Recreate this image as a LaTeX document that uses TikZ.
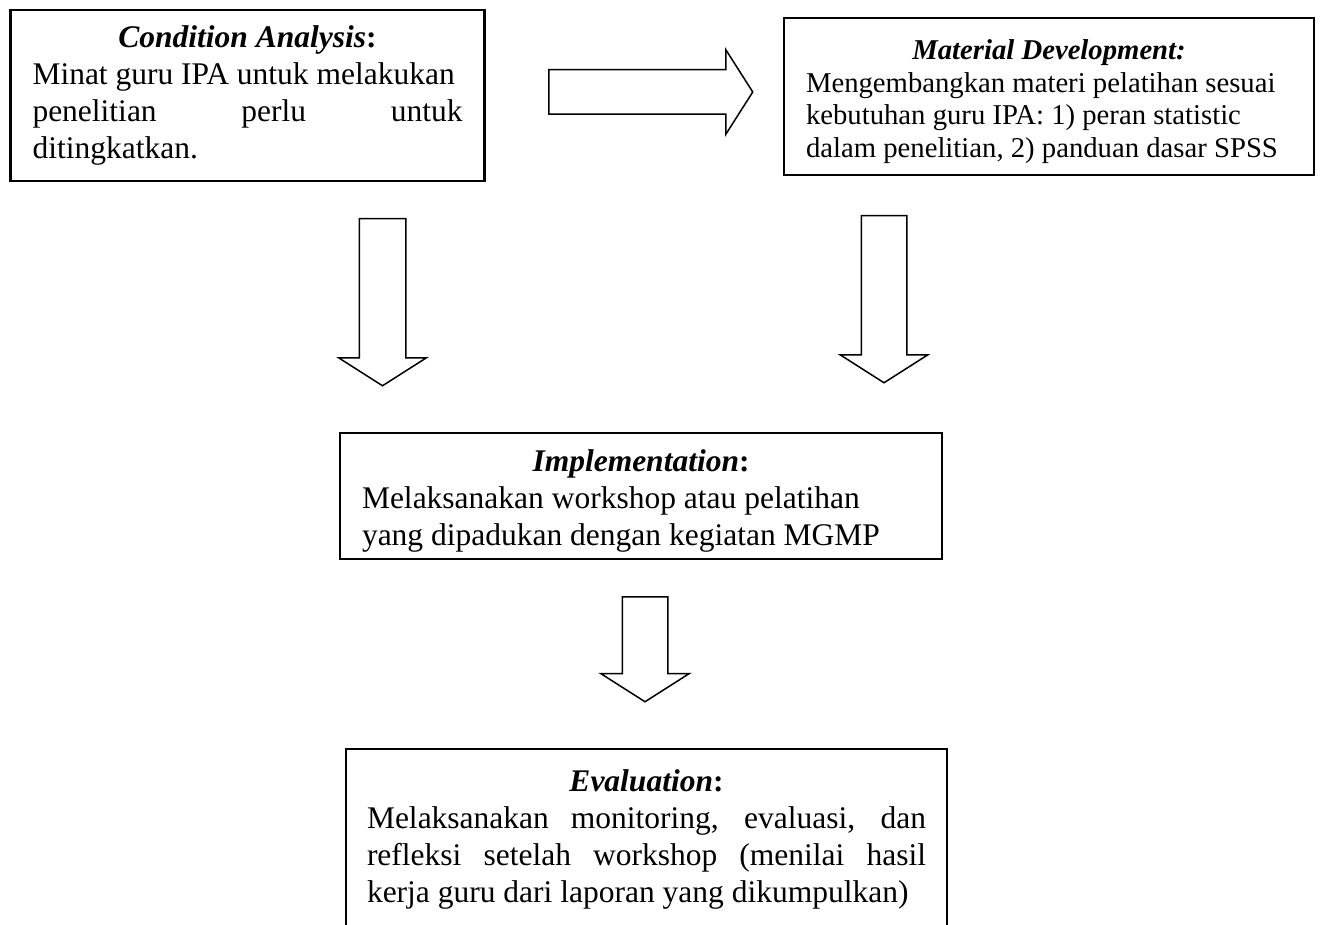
\documentclass[tikz,border=0pt]{standalone}
\usepackage{fontspec}
\setmainfont{Liberation Serif}
\usetikzlibrary{shapes.arrows}

\tikzset{
  stage/.style={draw, line width=2.4pt, inner xsep=22pt, inner ysep=0pt, align=flush left,
    font=\fontsize{31.5}{37}\selectfont},
  blockarrow/.style={draw, single arrow, line width=1.5pt, inner xsep=0pt, inner ysep=22pt,
    single arrow tip angle=115, single arrow head indent=0pt, single arrow head extend=21pt,
    anchor=tail, minimum width=0pt},
}
\newcommand{\stagetitle}[2]{\makebox[\hsize]{\bfseries\itshape #1\upshape #2}}

\begin{document}
\begin{tikzpicture}[x=1pt,y=-1pt]
\path[use as bounding box, fill=white] (0,0) rectangle (1322,925);

% the four stages
\node[stage, text width=430, minimum height=171] (cond) at (247.5,95.5)
  {\stagetitle{Condition Analysis}{:}\\
   Minat guru IPA untuk melakukan\\
   \makebox[\hsize][s]{penelitian perlu untuk}\\
   ditingkatkan.};
\node[stage, text width=486, minimum height=157, text height=29.8pt, font=\fontsize{28.7}{32.5}\selectfont] (matdev) at (1049,96.5)
  {\stagetitle{Material Development:}{}\\
   Mengembangkan materi pelatihan sesuai\\
   kebutuhan guru IPA: 1) peran statistic\\
   dalam penelitian, 2) panduan dasar SPSS};
\node[stage, text width=558, minimum height=126, text height=32pt] (impl) at (641,496)
  {\stagetitle{Implementation}{:}\\
   Melaksanakan workshop atau pelatihan\\
   yang dipadukan dengan kegiatan MGMP};
\node[stage, text width=559, inner xsep=21pt, minimum height=181] (eval) at (646.5,839.5)
  {\stagetitle{Evaluation}{:}\\
   \makebox[\hsize][s]{Melaksanakan monitoring, evaluasi, dan}\\
   \makebox[\hsize][s]{refleksi setelah workshop (menilai hasil}\\
   kerja guru dari laporan yang dikumpulkan)};

% block arrows
\node[blockarrow, minimum height=204, inner ysep=21.5pt, single arrow head extend=20pt] (condToMat) at (548,92) {};
\node[blockarrow, rotate=-90, minimum height=167, inner ysep=22.5pt, single arrow head extend=20.5pt] (condToImpl) at (382.5,218) {};
\node[blockarrow, rotate=-90, minimum height=167] (matToImpl) at (884,215) {};
\node[blockarrow, rotate=-90, minimum height=105, single arrow head extend=21.5pt] (implToEval) at (645,596) {};
\end{tikzpicture}
\end{document}
